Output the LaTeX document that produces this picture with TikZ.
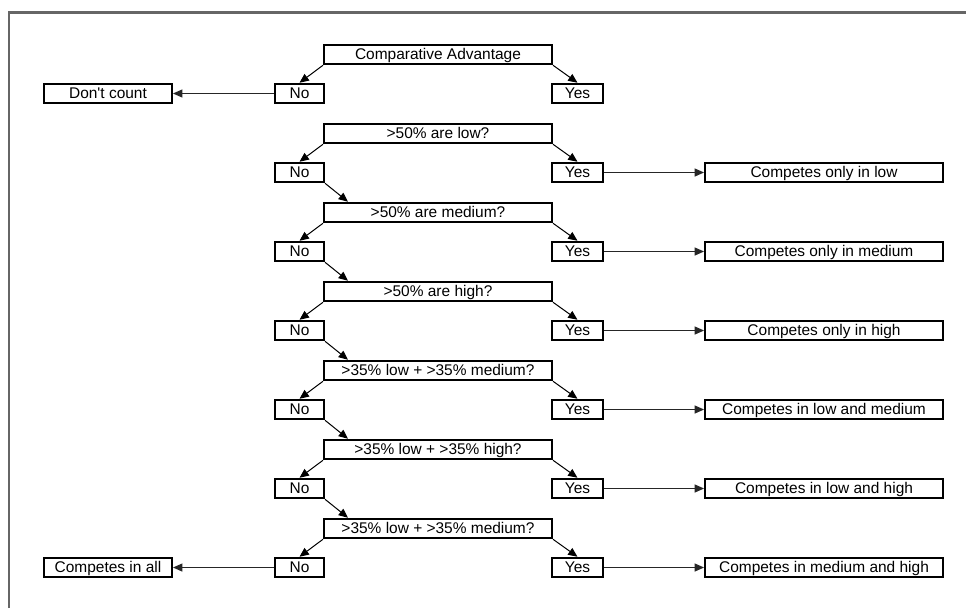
\documentclass[tikz,border=0pt]{standalone}
\usepackage{fontspec}
\setmainfont{Liberation Sans}
\usetikzlibrary{arrows.meta,calc}
\begin{document}
\begin{tikzpicture}[x=0.75pt,y=-0.75pt,
  box/.style={draw=black,line width=1.5pt,inner sep=0pt,minimum height=19.5*0.75pt,
    text height=9.2pt,text depth=1.8pt,
    font=\fontsize{11.6}{13}\selectfont},
  qbox/.style={box,minimum width=228*0.75pt},
  nbox/.style={box,minimum width=49*0.75pt},
  ybox/.style={box,minimum width=51*0.75pt},
  rbox/.style={box,minimum width=238*0.75pt},
  lbox/.style={box,minimum width=128*0.75pt},
  arr/.style={line width=0.75pt,-{Triangle[length=7pt,width=6pt]}},
  harr/.style={arr,draw=black!85}]
\useasboundingbox (0,0) rectangle (966,608);
\draw[line width=1.6pt,draw=black!60] (9,608) coordinate (fb) -- (9,12.5) coordinate (fc) -- (966,12.5) coordinate (fr);
% questions
\foreach \i/\t in {0/Comparative Advantage,1/>50\% are low?,2/>50\% are medium?,3/>50\% are high?,4/>35\% low + >35\% medium?,5/>35\% low + >35\% high?,6/>35\% low + >35\% medium?}{
  \node[qbox] (q\i) at (438,{54.5+79*\i}) {\t};
  \node[nbox] (n\i) at (299.5,{93.5+79*\i}) {No};
  \node[ybox] (y\i) at (577.5,{93.5+79*\i}) {Yes};
  \draw[arr] (q\i.south west) -- (n\i.north);
  \draw[arr] (q\i.south east) -- (y\i.north);
}
% results
\foreach \i/\t in {1/Competes only in low,2/Competes only in medium,3/Competes only in high,4/Competes in low and medium,5/Competes in low and high,6/Competes in medium and high}{
  \node[rbox] (r\i) at (824,{93.5+79*\i}) {\t};
  \draw[harr] (y\i.east) -- (r\i.west);
}
\foreach \i/\j in {1/2,2/3,3/4,4/5,5/6}{
  \draw[arr] (n\i.south east) -- ($(q\j.north west)+(25,0)$);
}
\node[lbox] (l0) at (108,93.5) {Don\textquotesingle t count};
\node[lbox] (l6) at (108,{93.5+79*6}) {Competes in all};
\draw[harr] (n0.west) -- (l0.east);
\draw[harr] (n6.west) -- (l6.east);
\end{tikzpicture}
\end{document}
